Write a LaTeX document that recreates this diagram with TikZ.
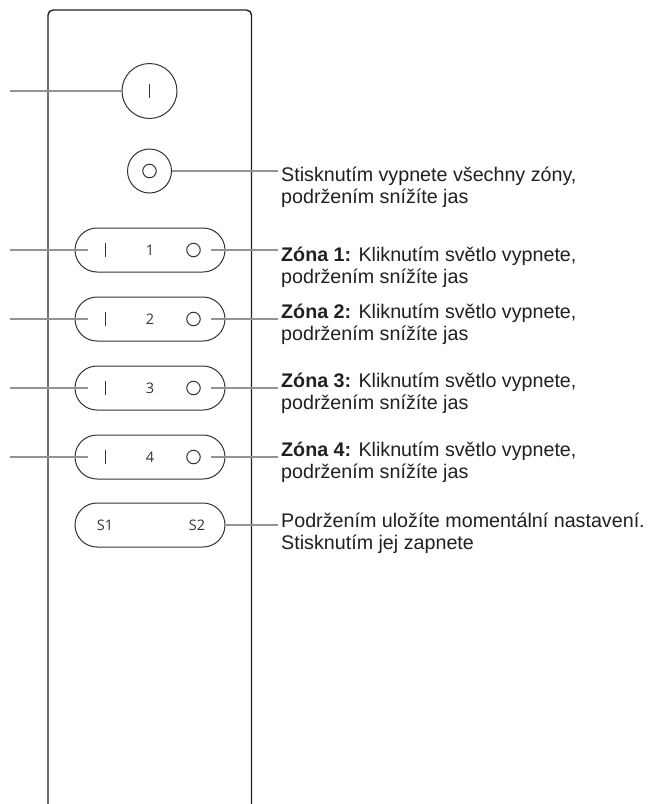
\documentclass[tikz,border=0pt]{standalone}
\usepackage{fontspec}
\setmainfont{Liberation Sans}
\newfontfamily\btnfont{Open Sans}
\usetikzlibrary{shapes.misc}
\definecolor{ink}{HTML}{231F20}
\definecolor{leadc}{HTML}{939393}
\definecolor{btnc}{HTML}{333333}
\begin{document}
\begin{tikzpicture}[x=1pt,y=-1pt,
  body/.style={draw=ink,line width=1.4pt},
  pill/.style={draw=btnc,line width=1pt,rounded rectangle,minimum width=150pt,minimum height=44pt,inner sep=0pt},
  rbtn/.style={draw=btnc,line width=1pt,circle,inner sep=0pt},
  ring/.style={draw=btnc,line width=1pt,circle,inner sep=0pt,minimum size=13.5pt},
  glyph/.style={draw=btnc,line width=0.9pt},
  leader/.style={draw=leadc,line width=1.2pt},
  lbl/.style={font=\btnfont\fontsize{14.5}{17}\selectfont,text=btnc,inner sep=0pt},
  note/.style={anchor=base west,inner sep=0pt,text=ink,font=\fontsize{19.7}{22}\selectfont}
]
\useasboundingbox (0,0) rectangle (651,804);
\fill[white] (0,0) rectangle (651,804);
% remote body
\draw[body,rounded corners=5pt] (48,808) -- (48,10) -- (251.5,10) -- (251.5,808);

% power button
\node[rbtn,minimum size=55pt] (pw) at (149.5,91) {};
\draw[glyph] (149.5,84) -- (149.5,98);
\coordinate (pwL) at (10,91);
\draw[leader] (pwL) -- (pw.west);

% all-off button
\node[rbtn,minimum size=44pt] (off) at (149.5,171) {};
\node[ring] (offring) at (149.5,171) {};
\coordinate (offR) at (278,171);
\draw[leader] (off.east) -- (offR);
\node[note] (offtxt) at (281,181) {\begin{tabular}[t]{@{}l@{}}Stisknutím vypnete všechny zóny,\\podržením snížíte jas\end{tabular}};

% zone buttons
\foreach \n/\y/\b in {1/250/261,2/319/318,3/388/387,4/457/456}{
  \node[pill] (zone\n) at (150,\y) {};
  \draw[glyph] (105,{\y-7}) -- (105,{\y+7});
  \node[lbl] (num\n) at (150,\y) {\n};
  \node[ring] (ring\n) at (193.5,\y) {};
  \coordinate (zL\n) at (10,\y);
  \coordinate (zLi\n) at (88,\y);
  \coordinate (zRi\n) at (211,\y);
  \coordinate (zR\n) at (278,\y);
  \draw[leader] (zL\n) -- (zLi\n);
  \draw[leader] (zRi\n) -- (zR\n);
  \node[note] (ztxt\n) at (281,\b) {\begin{tabular}[t]{@{}l@{}}\textbf{Zóna \n:} Kliknutím světlo vypnete,\\podržením snížíte jas\end{tabular}};
}

% scene button
\node[pill] (scene) at (150,525) {};
\node[lbl] (s1) at (105,525) {S1};
\node[lbl] (s2) at (197,525) {S2};
\coordinate (sR) at (278,525);
\draw[leader] (scene.east) -- (sR);
\node[note] (stxt) at (281,527) {\begin{tabular}[t]{@{}l@{}}Podržením uložíte momentální nastavení.\\Stisknutím jej zapnete\end{tabular}};
\end{tikzpicture}
\end{document}
